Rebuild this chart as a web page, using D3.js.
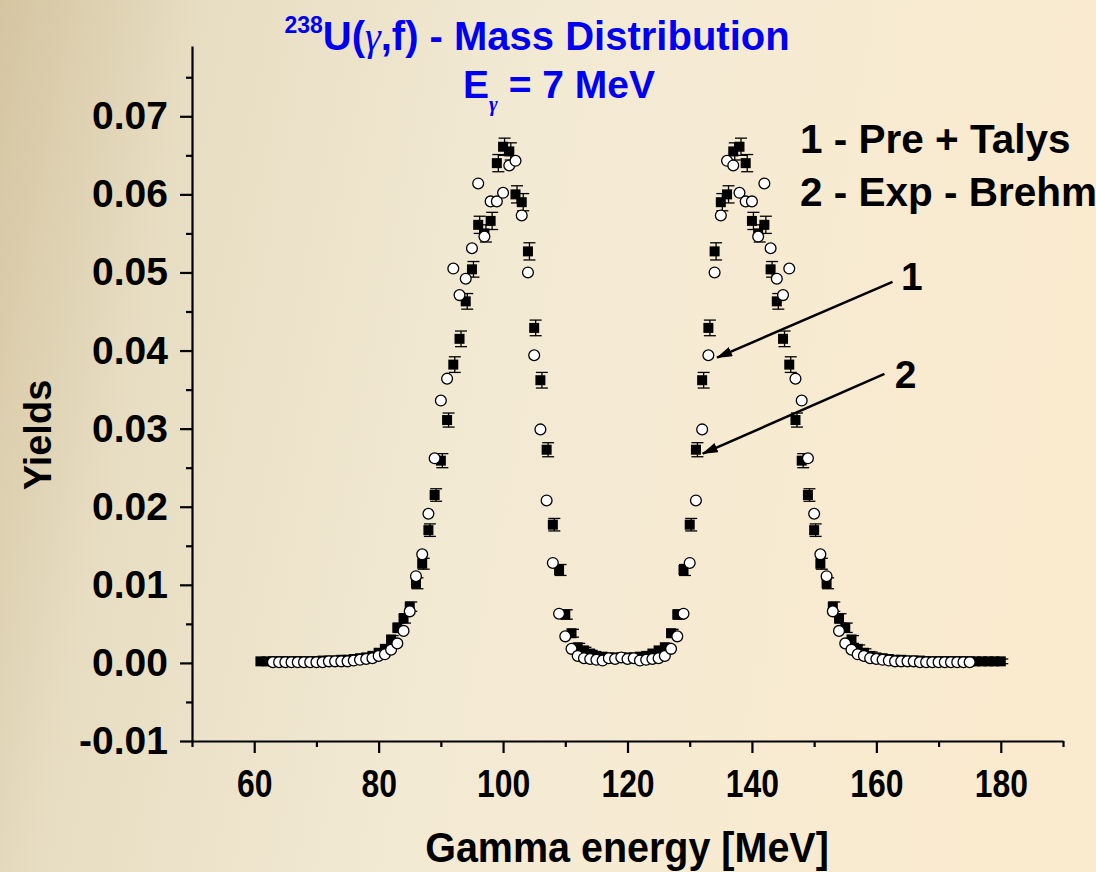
<!DOCTYPE html>
<html>
<head>
<meta charset="utf-8">
<script src="https://cdn.jsdelivr.net/npm/d3@7"></script>
<style>
  body { margin: 0; overflow: hidden; }
  svg text { font-family: "Liberation Sans", Arial, sans-serif; font-weight: bold; }
</style>
</head>
<body>
<div id="vis-container"></div>
<script>
// Set margins and dimensions
const width = 1096;
const height = 872;
const margin = { top: 46, right: 33, bottom: 131, left: 192 };

// mass numbers of the points
const massExp = d3.range(61, 181);   // 2 - Exp - Brehm
const massTal = d3.range(63, 176);   // 1 - Pre + Talys

// 2 - Exp - Brehm (filled squares)
const yieldExp = [
  0.0002, 0.0002, 0.0002, 0.0002, 0.0002, 0.0002, 0.0002, 0.0002, 0.0002, 0.0002,
  0.0003, 0.0003, 0.0003, 0.0004, 0.0004, 0.0005, 0.0006, 0.0007, 0.0009, 0.0013,
  0.0018, 0.0030, 0.0045, 0.0057, 0.0072, 0.0102, 0.0127, 0.0170, 0.0215, 0.0259,
  0.0311, 0.0382, 0.0415, 0.0463, 0.0504, 0.0561, 0.0550, 0.0566, 0.0640, 0.0661,
  0.0655, 0.0600, 0.0590, 0.0527, 0.0429, 0.0362, 0.0273, 0.0177, 0.0119, 0.0062,
  0.0038, 0.0020, 0.0016, 0.0012, 0.0009, 0.0008, 0.0007, 0.0007, 0.0007, 0.0007,
  0.0007, 0.0008, 0.0009, 0.0012, 0.0016, 0.0020, 0.0038, 0.0062, 0.0119, 0.0177,
  0.0273, 0.0362, 0.0429, 0.0527, 0.0590, 0.0600, 0.0655, 0.0661, 0.0640, 0.0566,
  0.0550, 0.0561, 0.0504, 0.0463, 0.0415, 0.0382, 0.0311, 0.0259, 0.0215, 0.0170,
  0.0127, 0.0102, 0.0072, 0.0057, 0.0045, 0.0030, 0.0018, 0.0013, 0.0009, 0.0007,
  0.0006, 0.0005, 0.0004, 0.0004, 0.0003, 0.0003, 0.0003, 0.0002, 0.0002, 0.0002,
  0.0002, 0.0002, 0.0002, 0.0002, 0.0002, 0.0002, 0.0002, 0.0002, 0.0002, 0.0002
];
const errExp = [
  0.0003, 0.0003, 0.0003, 0.0003, 0.0003, 0.0003, 0.0003, 0.0003, 0.0003, 0.0003,
  0.0003, 0.0003, 0.0003, 0.0004, 0.0004, 0.0004, 0.0004, 0.0005, 0.0005, 0.0005,
  0.0005, 0.0005, 0.0006, 0.0006, 0.0006, 0.0007, 0.0007, 0.0008, 0.0008, 0.0009,
  0.0009, 0.0010, 0.0010, 0.0010, 0.0010, 0.0011, 0.0011, 0.0011, 0.0011, 0.0011,
  0.0011, 0.0011, 0.0011, 0.0011, 0.0010, 0.0010, 0.0009, 0.0008, 0.0007, 0.0006,
  0.0005, 0.0005, 0.0004, 0.0004, 0.0004, 0.0004, 0.0004, 0.0004, 0.0004, 0.0004,
  0.0004, 0.0004, 0.0004, 0.0004, 0.0004, 0.0005, 0.0005, 0.0006, 0.0007, 0.0008,
  0.0009, 0.0010, 0.0010, 0.0011, 0.0011, 0.0011, 0.0011, 0.0011, 0.0011, 0.0011,
  0.0011, 0.0011, 0.0010, 0.0010, 0.0010, 0.0010, 0.0009, 0.0009, 0.0008, 0.0008,
  0.0007, 0.0007, 0.0006, 0.0006, 0.0006, 0.0005, 0.0005, 0.0005, 0.0005, 0.0004,
  0.0004, 0.0004, 0.0004, 0.0003, 0.0003, 0.0003, 0.0003, 0.0003, 0.0003, 0.0003,
  0.0003, 0.0003, 0.0003, 0.0003, 0.0003, 0.0003, 0.0003, 0.0003, 0.0003, 0.0003
];

// 1 - Pre + Talys (open circles)
const yieldTal = [
  0.0001, 0.0001, 0.0001, 0.0001, 0.0001, 0.0001, 0.0001, 0.0001, 0.0001,
  0.0002, 0.0002, 0.0002, 0.0002, 0.0003, 0.0004, 0.0005, 0.0006, 0.0009,
  0.0011, 0.0017, 0.0025, 0.0041, 0.0066, 0.0111, 0.0139, 0.0191, 0.0262, 0.0336,
  0.0364, 0.0505, 0.0471, 0.0492, 0.0531, 0.0614, 0.0546, 0.0591, 0.0591, 0.0602,
  0.0637, 0.0643, 0.0573, 0.0500, 0.0394, 0.0299, 0.0208, 0.0128, 0.0063, 0.0034,
  0.0018, 0.0009, 0.0006, 0.0005, 0.0004, 0.0003, 0.0006, 0.0005, 0.0007, 0.0005,
  0.0006, 0.0003, 0.0004, 0.0005, 0.0006, 0.0009, 0.0018, 0.0034, 0.0063, 0.0128,
  0.0208, 0.0299, 0.0394, 0.0500, 0.0573, 0.0643, 0.0637, 0.0602, 0.0591, 0.0591,
  0.0546, 0.0614, 0.0531, 0.0492, 0.0471, 0.0505, 0.0364, 0.0336, 0.0262, 0.0191,
  0.0139, 0.0111, 0.0066, 0.0041, 0.0025, 0.0017, 0.0011, 0.0009, 0.0006, 0.0005,
  0.0004, 0.0003, 0.0002, 0.0002, 0.0002, 0.0002,
  0.0001, 0.0001, 0.0001, 0.0001, 0.0001, 0.0001, 0.0001, 0.0001, 0.0001
];

// tick labels
const xTicks = [60, 80, 100, 120, 140, 160, 180];
const xMinor = [50, 70, 90, 110, 130, 150, 170, 190];
const yTicks = [-0.01, 0.00, 0.01, 0.02, 0.03, 0.04, 0.05, 0.06, 0.07];
const yMinor = [-0.005, 0.005, 0.015, 0.025, 0.035, 0.045, 0.055, 0.065, 0.075];

const svg = d3.select("#vis-container")
  .append("svg")
  .attr("width", width)
  .attr("height", height);

// background
const grad = svg.append("defs").append("linearGradient")
  .attr("id", "bg").attr("x1", "0").attr("x2", "1").attr("y1", "0").attr("y2", "0.15");
grad.append("stop").attr("offset", "0").attr("stop-color", "#d5c5a1");
grad.append("stop").attr("offset", "0.18").attr("stop-color", "#e7ddc2");
grad.append("stop").attr("offset", "0.5").attr("stop-color", "#f3ead4");
grad.append("stop").attr("offset", "1").attr("stop-color", "#faebcf");
svg.append("rect").attr("width", width).attr("height", height).attr("fill", "url(#bg)");

// scales
const x = d3.scaleLinear().domain([50, 190]).range([margin.left, width - margin.right]);
const y = d3.scaleLinear().domain([-0.01, 0.079]).range([height - margin.bottom, margin.top]);

// x axis
const xAxis = svg.append("g")
  .attr("transform", `translate(0,${height - margin.bottom})`)
  .call(d3.axisBottom(x).tickValues(xTicks).tickSize(12).tickPadding(17).tickSizeOuter(0));
svg.append("g")
  .attr("transform", `translate(0,${height - margin.bottom})`)
  .call(d3.axisBottom(x).tickValues(xMinor).tickSize(6).tickFormat("").tickSizeOuter(0))
  .select(".domain").remove();
xAxis.selectAll("text")
  .attr("font-size", "38px").attr("fill", "#000")
  .attr("transform", "scale(0.84,1)");

// y axis
const yAxis = svg.append("g")
  .attr("transform", `translate(${margin.left},0)`)
  .call(d3.axisLeft(y).tickValues(yTicks).tickSize(12).tickPadding(12).tickSizeOuter(0)
    .tickFormat(d => d3.format(".2f")(d).replace("−", "-")));
svg.append("g")
  .attr("transform", `translate(${margin.left},0)`)
  .call(d3.axisLeft(y).tickValues(yMinor).tickSize(6).tickFormat("").tickSizeOuter(0))
  .select(".domain").remove();
yAxis.selectAll("text").attr("font-size", "39px").attr("fill", "#000");

svg.selectAll(".domain, .tick line").attr("stroke", "#000").attr("stroke-width", 2.2);

// axis titles
svg.append("text")
  .attr("transform", "translate(627,862) scale(0.94,1)")
  .attr("text-anchor", "middle")
  .attr("font-size", "42px")
  .text("Gamma energy [MeV]");

svg.append("text")
  .attr("transform", "translate(51,435) rotate(-90)")
  .attr("text-anchor", "middle")
  .attr("font-size", "38px")
  .text("Yields");

// title
const title = svg.append("text")
  .attr("x", 537).attr("y", 50)
  .attr("text-anchor", "middle")
  .attr("fill", "#0000f0")
  .attr("font-size", "40px");
title.append("tspan").attr("font-size", "23px").attr("dy", -17).text("238");
title.append("tspan").attr("dy", 17).text("U(");
title.append("tspan").style("font-family", "'Liberation Serif', serif").style("font-style", "italic").style("font-weight", "normal").text("γ");
title.append("tspan").text(",f) - Mass Distribution");

const sub = svg.append("text")
  .attr("x", 559).attr("y", 98)
  .attr("text-anchor", "middle")
  .attr("fill", "#0000f0")
  .attr("font-size", "39px");
sub.append("tspan").text("E");
sub.append("tspan").attr("font-size", "21px").attr("dy", 13)
  .style("font-family", "'Liberation Serif', serif").style("font-style", "italic").text("γ");
sub.append("tspan").attr("dy", -13).text(" = 7 MeV");

// error bars + squares (Exp - Brehm)
const expData = massExp.map((m, i) => ({ m: m, v: yieldExp[i], e: errExp[i] }));
const talData = massTal.map((m, i) => ({ m: m, v: yieldTal[i] }));

const errG = svg.append("g").attr("stroke", "#000").attr("stroke-width", 1.3);
expData.forEach(d => {
  const cx = x(d.m) + 1.5;
  errG.append("line").attr("x1", cx).attr("x2", cx).attr("y1", y(d.v - d.e)).attr("y2", y(d.v + d.e));
  errG.append("line").attr("x1", cx - 6).attr("x2", cx + 6).attr("y1", y(d.v + d.e)).attr("y2", y(d.v + d.e));
  errG.append("line").attr("x1", cx - 6).attr("x2", cx + 6).attr("y1", y(d.v - d.e)).attr("y2", y(d.v - d.e));
});

svg.append("g").selectAll("rect")
  .data(expData)
  .join("rect")
  .attr("x", d => x(d.m) - 5)
  .attr("y", d => y(d.v) - 5)
  .attr("width", 10)
  .attr("height", 10)
  .attr("fill", "#000");

// circles (Pre + Talys)
svg.append("g").selectAll("circle")
  .data(talData)
  .join("circle")
  .attr("cx", d => x(d.m))
  .attr("cy", d => y(d.v))
  .attr("r", 5.4)
  .attr("fill", "#fff")
  .attr("stroke", "#000")
  .attr("stroke-width", 1.3);

// legend text
svg.append("text").attr("x", 800).attr("y", 153).attr("font-size", "40.5px").text("1 - Pre + Talys");
svg.append("text").attr("x", 800).attr("y", 206).attr("font-size", "40.5px").text("2 - Exp - Brehm");

// arrows with labels
svg.append("defs").append("marker")
  .attr("id", "head")
  .attr("markerUnits", "userSpaceOnUse")
  .attr("viewBox", "0 0 16 10")
  .attr("refX", 15).attr("refY", 5)
  .attr("markerWidth", 16).attr("markerHeight", 10)
  .attr("orient", "auto")
  .append("path").attr("d", "M0,0 L16,5 L0,10 Z").attr("fill", "#000");

const arrows = [
  { label: "1", from: [162.6, 0.0488], to: [134.4, 0.0391], at: [165.7, 0.0478] },
  { label: "2", from: [161.3, 0.0370], to: [132.1, 0.0268], at: [164.7, 0.0352] }
];
arrows.forEach(a => {
  svg.append("line")
    .attr("x1", x(a.from[0])).attr("y1", y(a.from[1]))
    .attr("x2", x(a.to[0])).attr("y2", y(a.to[1]))
    .attr("stroke", "#000").attr("stroke-width", 2.5)
    .attr("marker-end", "url(#head)");
  svg.append("text")
    .attr("x", x(a.at[0])).attr("y", y(a.at[1]))
    .attr("text-anchor", "middle")
    .attr("font-size", "39px")
    .text(a.label);
});
</script>
</body>
</html>
